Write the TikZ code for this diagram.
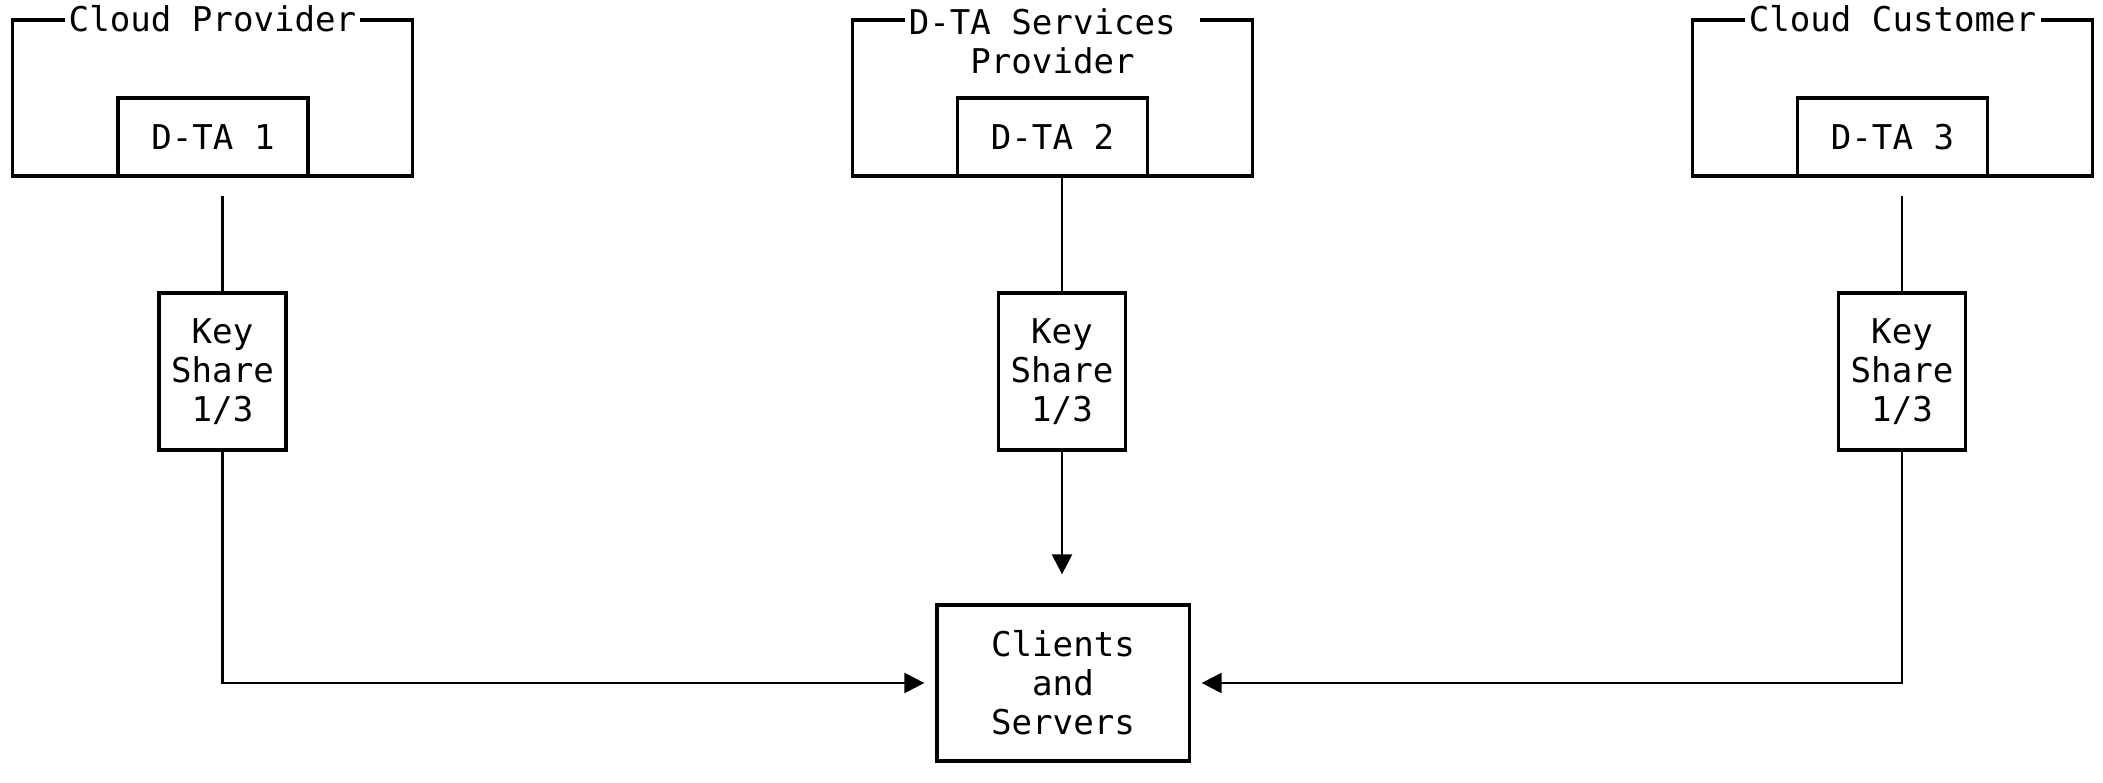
\documentclass[tikz,border=0pt]{standalone}
\usepackage{fontspec}
\setmonofont{DejaVu Sans Mono}
\usetikzlibrary{arrows.meta}

\tikzset{
	box/.style = {draw, line width = 0.9pt, inner sep = 0pt, align = center},
	party/.style = {box, minimum width = 3.99cm, minimum height = 1.56cm},
	dta/.style = {box, minimum width = 1.9cm, minimum height = 0.78cm},
	share/.style = {box, minimum width = 1.27cm, minimum height = 1.57cm},
	title/.style = {fill = white, inner xsep = 1.2pt, inner ysep = 0pt, align = center},
	link/.style = {line width = 0.7pt},
	arrow/.style = {link, -{Triangle[length = 0.2cm, width = 0.2cm]}, shorten > = 0.11cm}
}

\begin{document}
\begin{tikzpicture}[x = 0.01cm, y = -0.01cm, font = \ttfamily\fontsize{9.7}{11.1}\selectfont]
						\useasboundingbox (0, 0) rectangle (2103, 783);

						% parties
						\node [party] (cp) at (212.5, 98) {};
						\node [party] (dsp) at (1052.5, 98) {};
						\node [party] (cc) at (1892.5, 98) {};

						\node [title] at (cp.north) {Cloud Provider};
						\node [title, anchor = north] at (1052.5, 7.5) {D-TA Services\phantom{x}\\Provider};
						\node [title] at (cc.north) {Cloud Customer};

						% trust authorities
						\node [dta] (dta1) at (213, 137) {D-TA 1};
						\node [dta] (dta2) at (1052.5, 137) {D-TA 2};
						\node [dta] (dta3) at (1892.5, 137) {D-TA 3};

						% key shares
						\node [share] (share1) at (222.5, 371.5) {Key\\Share\\1/3};
						\node [share] (share2) at (1062, 371.5) {Key\\Share\\1/3};
						\node [share] (share3) at (1902, 371.5) {Key\\Share\\1/3};

						\node [box, minimum width = 2.52cm, minimum height = 1.56cm] (clients) at (1063, 683) {Clients\\and\\Servers};

						\draw [link, shorten > = 0.18cm] (share1.north) -- (share1.north |- dta1.south);
						\draw [link] (share2.north) -- (share2.north |- dta2.south);
						\draw [link, shorten > = 0.18cm] (share3.north) -- (share3.north |- dta3.south);

						\draw [arrow] (share1.south) |- (clients.west);
						\draw [arrow, shorten > = 0.29cm] (share2.south) -- (share2.south |- clients.north);
						\draw [arrow] (share3.south) |- (clients.east);
					\end{tikzpicture}
\end{document}
